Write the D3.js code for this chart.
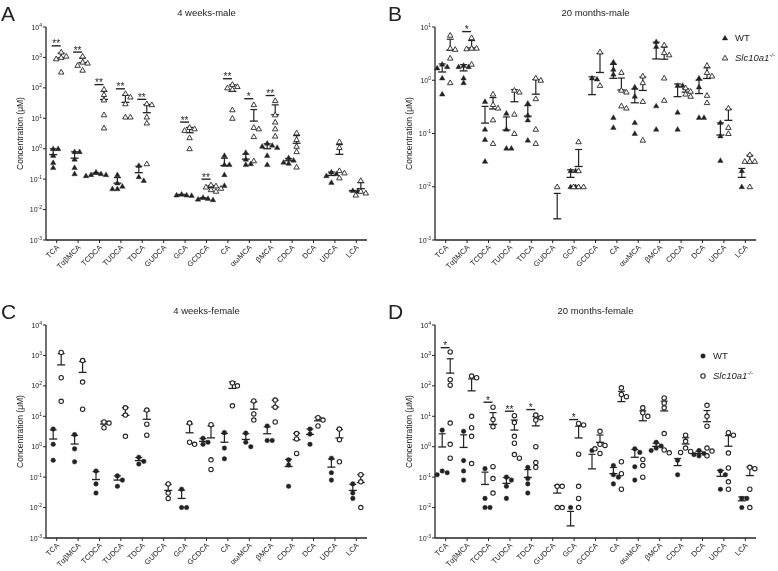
<!DOCTYPE html>
<html>
<head>
<meta charset="utf-8">
<script src="https://cdnjs.cloudflare.com/ajax/libs/d3/7.8.5/d3.min.js"></script>
<style>
  body { margin: 0; background: #fff; }
  text { font-family: "Liberation Sans", Arial, sans-serif; fill: #222; }
</style>
</head>
<body>
<script>
// bile acid species, same order in every panel
var cats = ["TCA", "TαβMCA", "TCDCA", "TUDCA", "TDCA", "GUDCA", "GCA", "GCDCA", "CA", "αωMCA", "βMCA", "CDCA", "DCA", "UDCA", "LCA"];

// concentrations (uM) per animal; 0 = below detection (counted in mean, not drawn)
var wtA = [[1.0, 1.0, 0.6, 0.35, 0.24], [0.8, 0.8, 0.45, 0.24, 0.15], [0.17, 0.15, 0.14, 0.14, 0.13], [0.14, 0.075, 0.058, 0.048, 0.048], [0.28, 0.12, 0.09], [],
  [0.032, 0.03, 0.03, 0.029], [0.025, 0.023, 0.022, 0.021], [0.6, 0.3, 0.3, 0.14, 0.062], [0.75, 0.45, 0.32, 0.3], [1.5, 1.3, 1.2, 1.1, 0.6, 0.3],
  [0.5, 0.42, 0.36, 0.33], [], [0.17, 0.15, 0.13, 0.078], [0.042, 0.04]];
var koA = [[1500, 1100, 1000, 900, 330], [1100, 700, 650, 550, 380], [90, 60, 40, 13, 4.8], [65, 50, 30, 11, 11], [30, 28, 11, 7, 0.32], [],
  [5, 4.5, 4, 2.3, 1.0], [0.065, 0.06, 0.055, 0.05, 0.045, 0.04], [130, 110, 100, 90, 19, 10], [28, 5, 4.5, 2.5, 0.4], [38, 13, 7.5, 4.5, 2.6],
  [3.3, 2, 1.2, 0.8, 0.25], [], [1.7, 1.1, 0.19, 0.16, 0.11], [0.09, 0.04, 0.035, 0.03]];

var wtB = [[2.0, 1.8, 1.7, 1.1, 0.55], [1.9, 1.8, 1.8, 1.1, 0.9], [0.4, 0.12, 0.077, 0.03], [0.24, 0.12, 0.053, 0.053], [0.37, 0.22, 0.18, 0.075], [],
  [0.02, 0.02, 0.01, 0.01], [1.1, 1.05, 0, 0], [2.2, 1.6, 1.3, 0.2, 0.13], [0.75, 0.5, 0.16, 0.1], [5.3, 4.3, 0.33, 0.12],
  [0.8, 0.8, 0.25, 0.12], [1.1, 0.75, 0.2, 0.2], [0.16, 0.09, 0.031], [0.02, 0.01]];
var koB = [[7, 4, 3.8, 2.6, 0.9], [6.3, 4, 4, 3.9, 2.0], [0.55, 0.35, 0.3, 0.18, 0.065], [0.65, 0.6, 0.23, 0.1], [1.1, 1.0, 0.45, 0.12, 0.065], [0.01, 0, 0, 0],
  [0.07, 0.02, 0.01, 0.01, 0.01], [3.4, 0.8, 0], [1.4, 0.65, 0.6, 0.33, 0.3], [1.2, 0.9, 0.4, 0.075], [4.6, 3.3, 3.0, 1.1, 0.42],
  [0.72, 0.62, 0.55, 0.5], [1.9, 1.4, 1.2, 0.52, 0.38], [0.3, 0.13, 0.1], [0.04, 0.03, 0.03, 0.03, 0.01]];

var wtC = [[3.8, 1.2, 0.36], [2.5, 0.85, 0.32], [0.16, 0.06, 0.03], [0.11, 0.08, 0.05], [0.45, 0.33, 0.27], [],
  [0.04, 0.01, 0.01], [1.9, 1.4, 1.2], [2.9, 0.9, 0.4], [2.8, 1.4, 1.0], [4.8, 1.6, 1.6],
  [0.37, 0.25, 0.05], [3.8, 2.6, 1.2], [0.42, 0.14, 0.08], [0.06, 0.03, 0.02]];
var koC = [[1250, 185, 31], [680, 133, 17], [6.5, 6.0, 4.2], [19, 11, 2.2], [16, 5.5, 2.4], [0.06, 0.03, 0.02],
  [6, 1.4, 1.2], [5.3, 0.37, 0.18], [125, 100, 22], [32, 12, 7.5], [34, 20, 6.5],
  [2.7, 1.8, 0.6], [9, 7.5, 4.8], [3.8, 1.7, 0.32], [0.12, 0.07, 0.01]];

var wtD = [[3.5, 0.16, 0.14, 0.12], [3.2, 0.35, 0.16, 0.08], [0.19, 0.02, 0.01, 0.01], [0.1, 0.08, 0.05, 0.02], [0.21, 0.09, 0.06, 0.03], [],
  [0.01, 0, 0, 0], [0.75, 0, 0, 0], [0.24, 0.12, 0.1, 0.06], [0.85, 0.65, 0.22, 0.08], [1.4, 1.05, 0.9, 0.75],
  [0.36, 0.12], [0.75, 0.6, 0.55, 0.5], [0.16, 0.12, 0.04], [0.02, 0.02, 0.01]];
var koD = [[1300, 160, 105, 6, 1.2, 0.42], [210, 185, 10, 4.2, 2.2, 0.28], [20, 7.8, 4.5, 0.22, 0.09, 0.03], [10.5, 6.2, 2.2, 1.3, 0.55, 0.42], [11, 9, 7.5, 1.0, 0.3, 0.21], [0.05, 0.05, 0.01, 0.01],
  [5.8, 5.2, 0.57, 0.05, 0.02, 0.01], [3.2, 1.2, 1.1, 0.85, 0.6], [86, 52, 44, 0.32, 0.13, 0.04], [19, 13, 10, 0.38, 0.24, 0.1], [40, 27, 19, 2.7, 0.78, 0.63],
  [2.4, 1.5, 0.9, 0.7, 0.65], [23, 10, 4.7, 0.9, 0.72, 0.5], [2.9, 2.4, 0.62, 0.2, 0.07, 0.04], [0.21, 0.19, 0.04, 0.01]];

// significance marks: [category, label, height in uM]
var sigA = [["TCA", "**", 2400], ["TαβMCA", "**", 1500], ["TCDCA", "**", 128], ["TUDCA", "**", 93], ["TDCA", "**", 42],
  ["GCA", "**", 7.5], ["GCDCA", "**", 0.1], ["CA", "**", 200], ["αωMCA", "*", 44], ["βMCA", "**", 56]];
var sigB = [["TαβMCA", "*", 8.2]];
var sigC = [];
var sigD = [["TCA", "*", 1800], ["TCDCA", "*", 29], ["TUDCA", "**", 14.7], ["TDCA", "*", 16.6], ["GCA", "*", 7.8]];

var panels = [
  {key: "A", title: "4 weeks-male", left: 46, right: 367, top: 27, bottom: 240, ymin: 1e-3, ymax: 1e4, wt: wtA, ko: koA, sig: sigA, shape: "tri"},
  {key: "B", title: "20 months-male", left: 435, right: 756, top: 27, bottom: 240, ymin: 1e-3, ymax: 1e1, wt: wtB, ko: koB, sig: sigB, shape: "tri", legend: [725, 38]},
  {key: "C", title: "4 weeks-female", left: 46, right: 367, top: 325, bottom: 538, ymin: 1e-3, ymax: 1e4, wt: wtC, ko: koC, sig: sigC, shape: "circ"},
  {key: "D", title: "20 months-female", left: 435, right: 756, top: 325, bottom: 538, ymin: 1e-3, ymax: 1e4, wt: wtD, ko: koD, sig: sigD, shape: "circ", legend: [703, 356]}
];

var svg = d3.select("body").append("svg")
  .attr("width", 778)
  .attr("height", 571);

svg.append("rect").attr("width", 778).attr("height", 571).attr("fill", "#fff");

var ink = "#222";

function drawMark(g, shape, filled, x, y) {
  if (shape == "tri") {
    g.append("path")
      .attr("d", d3.symbol().type(d3.symbolTriangle).size(13)())
      .attr("transform", "translate(" + x + "," + (y + 0.4) + ")")
      .attr("fill", filled ? ink : "#fff")
      .attr("stroke", ink)
      .attr("stroke-width", filled ? 0.4 : 0.9);
  } else {
    g.append("circle")
      .attr("cx", x).attr("cy", y)
      .attr("r", filled ? 2.3 : 2.2)
      .attr("fill", filled ? ink : "#fff")
      .attr("stroke", ink)
      .attr("stroke-width", filled ? 0.4 : 1.1);
  }
}

// spread points that would overlap, like a scatter dot plot
function swarm(vals, cx, y) {
  var placed = [];
  return vals.filter(function (v) { return v > 0; })
    .sort(d3.descending)
    .map(function (v) {
      var py = y(v), dx = 0;
      var offs = [0, 5, -5, 10, -10, 15];
      for (var i = 0; i < offs.length; i++) {
        var ok = placed.every(function (p) { return Math.hypot(p[0] - offs[i], p[1] - py) >= 4.6; });
        if (ok) { dx = offs[i]; break; }
      }
      placed.push([dx, py]);
      return [cx + dx, py];
    });
}

panels.forEach(function (p) {
  // slight opacity keeps rotated text in grayscale antialiasing
  var g = svg.append("g").style("opacity", 0.995);

  var x = d3.scaleBand().domain(cats).range([p.left, p.right]);
  var y = d3.scaleLog().domain([p.ymin, p.ymax]).range([p.bottom, p.top]);

  // panel letter + title
  g.append("text")
    .attr("x", p.left - 45 + (p.key == "B" || p.key == "D" ? -2 : 0))
    .attr("y", p.top - 6)
    .attr("font-size", 21)
    .text(p.key);
  g.append("text")
    .attr("x", (p.left + p.right) / 2)
    .attr("y", p.top - 11)
    .attr("text-anchor", "middle")
    .attr("font-size", 9.5)
    .text(p.title);

  // y axis with 10^n labels
  var decades = d3.range(Math.round(Math.log10(p.ymin)), Math.round(Math.log10(p.ymax)) + 1);
  g.append("line")
    .attr("x1", p.left).attr("x2", p.left)
    .attr("y1", p.top).attr("y2", p.bottom)
    .attr("stroke", ink).attr("stroke-width", 1.3);
  decades.forEach(function (e) {
    var yy = y(Math.pow(10, e));
    g.append("line")
      .attr("x1", p.left - 3).attr("x2", p.left)
      .attr("y1", yy).attr("y2", yy)
      .attr("stroke", ink).attr("stroke-width", 1);
    var t = g.append("text")
      .attr("x", p.left - 4)
      .attr("y", yy + 2.5)
      .attr("text-anchor", "end")
      .attr("font-size", 7)
      .attr("fill", "#333");
    t.append("tspan").text("10");
    t.append("tspan").attr("font-size", 5).attr("dy", -3).text(e < 0 ? "-" + (-e) : e);
  });
  g.append("text")
    .attr("transform", "translate(" + (p.left - 23) + "," + ((p.top + p.bottom) / 2) + ") rotate(-90)")
    .attr("text-anchor", "middle")
    .attr("font-size", 8.5)
    .text("Concentration (μM)");

  // x axis
  g.append("line")
    .attr("x1", p.left).attr("x2", p.right)
    .attr("y1", p.bottom).attr("y2", p.bottom)
    .attr("stroke", ink).attr("stroke-width", 1.3);
  cats.forEach(function (c) {
    var cx = x(c) + x.bandwidth() / 2;
    g.append("line")
      .attr("x1", cx).attr("x2", cx)
      .attr("y1", p.bottom).attr("y2", p.bottom + 3)
      .attr("stroke", ink).attr("stroke-width", 1);
    g.append("text")
      .attr("transform", "translate(" + (cx + 3) + "," + (p.bottom + 8) + ") rotate(-45)")
      .attr("text-anchor", "end")
      .attr("font-size", 7.5)
      .attr("fill", "#333")
      .text(c);
  });

  // groups: WT filled left of tick, KO open right of tick
  [[p.wt, true, -3.5], [p.ko, false, 4.5]].forEach(function (grp) {
    grp[0].forEach(function (vals, i) {
      if (!vals.length) return;
      var cx = x(cats[i]) + x.bandwidth() / 2 + grp[2];
      var m = d3.mean(vals);
      if (vals.length > 1) {
        var sd = d3.deviation(vals);
        var ym = y(m), yt = y(m + sd);
        g.append("line").attr("x1", cx - 4).attr("x2", cx + 4).attr("y1", ym).attr("y2", ym)
          .attr("stroke", ink).attr("stroke-width", 1.3);
        g.append("line").attr("x1", cx).attr("x2", cx).attr("y1", ym).attr("y2", yt)
          .attr("stroke", ink).attr("stroke-width", 1.2);
        g.append("line").attr("x1", cx - 3.5).attr("x2", cx + 3.5).attr("y1", yt).attr("y2", yt)
          .attr("stroke", ink).attr("stroke-width", 1.2);
      }
      swarm(vals, cx, y).forEach(function (pt) {
        drawMark(g, p.shape, grp[1], pt[0], pt[1]);
      });
    });
  });

  // significance bars
  p.sig.forEach(function (s) {
    var cx = x(s[0]) + x.bandwidth() / 2;
    var yy = y(s[2]);
    g.append("line")
      .attr("x1", cx - 5).attr("x2", cx + 4)
      .attr("y1", yy).attr("y2", yy)
      .attr("stroke", ink).attr("stroke-width", 1.4);
    g.append("text")
      .attr("x", cx - 0.5).attr("y", yy + 1.5)
      .attr("text-anchor", "middle")
      .attr("font-size", 10)
      .text(s[1]);
  });

  // legend
  if (p.legend) {
    var lx = p.legend[0], ly = p.legend[1];
    drawMark(g, p.shape, true, lx, ly);
    drawMark(g, p.shape, false, lx, ly + 20);
    g.append("text").attr("x", lx + 10).attr("y", ly + 3).attr("font-size", 9.5).text("WT");
    var t = g.append("text").attr("x", lx + 10).attr("y", ly + 23).attr("font-size", 9.5).attr("font-style", "italic");
    t.append("tspan").text("Slc10a1");
    t.append("tspan").attr("font-size", 6).attr("dy", -4).text("-/-");
  }
});
</script>
</body>
</html>
